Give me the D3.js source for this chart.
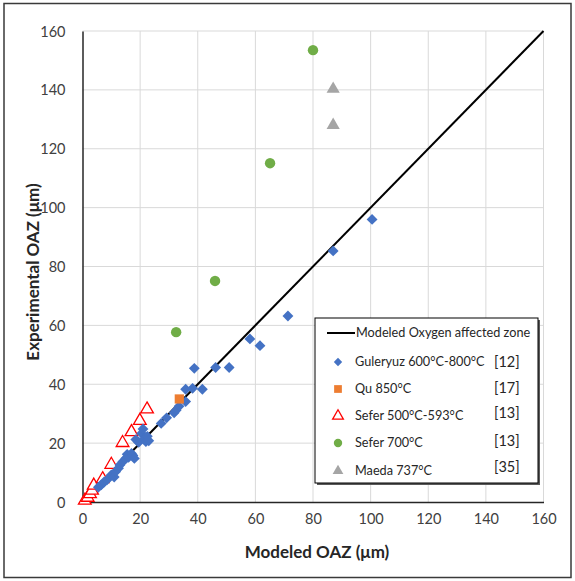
<!DOCTYPE html>
<html><head><meta charset="utf-8">
<script src="https://cdn.jsdelivr.net/npm/d3@7/dist/d3.min.js"></script>
<style>body{margin:0;background:#fff;}svg{display:block;font-family:Lato,"Noto Sans",sans-serif;}</style>
</head><body><svg id="c" width="575" height="581"></svg>
<script>
const xTicks = [0,20,40,60,80,100,120,140,160];
const yTicks = [0,20,40,60,80,100,120,140,160];
const modelLine = [[0,0],[160,160]];
const guleryuz = [[5.5,5.0],[6.5,5.8],[7.5,6.8],[8.5,7.5],[10,9.2],[11,8.5],[11.5,10.3],[12.5,11.5],[13,12.6],[14,13.7],[15,14.8],[15.5,16.2],[16,15.2],[17,16.5],[17.5,15.8],[18,14.8],[18.5,21.2],[19.5,20.3],[20.5,23.3],[21,24.8],[21.5,21.5],[22,20.5],[22.5,22.3],[23,20.8],[27.3,26.7],[29.2,28.6],[31.8,30.3],[32.5,31.2],[33.5,32.5],[35.8,34.1],[35.8,38.3],[38.2,38.6],[41.6,38.3],[38.8,45.4],[46.2,45.7],[50.9,45.7],[58.1,55.4],[61.6,53.1],[71.3,63.2],[87,85.3],[100.5,96]];
const qu = [[33.6,35.0]];
const sefer500 = [[0.8,0.5],[1.8,1.5],[2.6,2.7],[3.3,3.9],[3.9,5.6],[7,7.8],[10,12.7],[13.9,20.1],[17,23.8],[19.9,27.6],[22.4,31.5]];
const sefer700 = [[32.5,57.7],[46,75.1],[65.1,115.1],[80,153.5]];
const maeda = [[87,128],[87,140.3]];
const legendLabels = ["Modeled Oxygen affected zone","Guleryuz 600°C-800°C","Qu 850°C","Sefer 500°C-593°C","Sefer 700°C","Maeda 737°C"];
const legendRefs = ["","[12]","[17]","[13]","[13]","[35]"];

const svg = d3.select("#c");
const x = d3.scaleLinear().domain([0,160]).range([82.5,543.5]);
const y = d3.scaleLinear().domain([0,160]).range([502,31]);

// outer border
svg.append("rect").attr("x",4).attr("y",3.5).attr("width",567).attr("height",574)
  .attr("fill","#fff").attr("stroke","#3a3a3a").attr("stroke-width",1.5);

// gridlines
const g = svg.append("g");
g.selectAll(".vx").data(xTicks.slice(1)).join("line")
  .attr("x1",d=>x(d)).attr("x2",d=>x(d)).attr("y1",y(0)).attr("y2",y(160))
  .attr("stroke","#d9d9d9").attr("stroke-width",1);
g.selectAll(".hy").data(yTicks.slice(1)).join("line")
  .attr("x1",x(0)).attr("x2",x(160)).attr("y1",d=>y(d)).attr("y2",d=>y(d))
  .attr("stroke","#d9d9d9").attr("stroke-width",1);

// axes
const xAxis = d3.axisBottom(x).tickValues(xTicks).tickSize(0).tickPadding(12);
const yAxis = d3.axisLeft(y).tickValues(yTicks).tickSize(0).tickPadding(17);
const gx = svg.append("g").attr("transform",`translate(0,${y(0)})`).call(xAxis);
const gy = svg.append("g").attr("transform",`translate(${x(0)},0)`).call(yAxis);
[gx,gy].forEach(a=>{
  a.select(".domain").attr("stroke","#262626").attr("stroke-width",1.5);
  a.selectAll("text").attr("font-size",14.5).attr("fill","#404040").attr("font-family","Lato,sans-serif");
});
gy.selectAll("text").attr("dy","0.35em");

// titles
svg.append("text").attr("x",317).attr("y",558).attr("text-anchor","middle")
  .attr("font-size",17).attr("font-weight","bold").attr("fill","#262626").text("Modeled OAZ (μm)");
svg.append("text").attr("transform","translate(39,272) rotate(-90)").attr("text-anchor","middle")
  .attr("font-size",17).attr("font-weight","bold").attr("fill","#262626").text("Experimental OAZ (μm)");

// model line
svg.append("path").datum(modelLine)
  .attr("d",d3.line().x(d=>x(d[0])).y(d=>y(d[1])))
  .attr("stroke","#000").attr("stroke-width",2).attr("fill","none");

const sym = (type,size)=>d3.symbol().type(type).size(size)();
function plot(data,type,size,fill,stroke,sw){
  svg.append("g").selectAll("path").data(data).join("path")
    .attr("transform",d=>`translate(${x(d[0])},${y(d[1])})`)
    .attr("d",sym(type,size))
    .attr("fill",fill).attr("stroke",stroke||"none").attr("stroke-width",sw||0);
}
plot(sefer500,d3.symbolTriangle,70,"#fff","#ff0000",1.3);
plot(guleryuz,d3.symbolDiamond2,75,"#4472c4");
plot(qu,d3.symbolSquare,85,"#ed7d31");
plot(sefer700,d3.symbolCircle,85,"#70ad47");
plot(maeda,d3.symbolTriangle,75,"#a5a5a5");

// legend
const lg = svg.append("g");
lg.append("rect").attr("x",317).attr("y",320).attr("width",223).attr("height",165).attr("fill","#595959");
lg.append("rect").attr("x",315).attr("y",318).attr("width",223).attr("height",165).attr("fill","#fff").attr("stroke","#000").attr("stroke-width",1);
const rowsY = [333,362,389,416,443,471];
const refY = [0,362,388,413,441,467];
lg.append("line").attr("x1",327).attr("x2",355).attr("y1",rowsY[0]).attr("y2",rowsY[0]).attr("stroke","#000").attr("stroke-width",2);
const legMarks = [null,
  {t:d3.symbolDiamond2,s:45,f:"#4472c4"},
  {t:d3.symbolSquare,s:60,f:"#ed7d31"},
  {t:d3.symbolTriangle,s:50,f:"#fff",st:"#ff0000",sw:1.3},
  {t:d3.symbolCircle,s:55,f:"#70ad47"},
  {t:d3.symbolTriangle,s:50,f:"#a5a5a5"}];
legendLabels.forEach((lab,i)=>{
  if(i>0){
    const m = legMarks[i];
    lg.append("path").attr("transform",`translate(338,${rowsY[i]})`).attr("d",sym(m.t,m.s))
      .attr("fill",m.f).attr("stroke",m.st||"none").attr("stroke-width",m.sw||0);
  }
  lg.append("text").attr("x",i==0?356:355).attr("y",rowsY[i]).attr("dy","0.35em")
    .attr("font-size",12.7).attr("fill","#262626").text(lab);
  if(legendRefs[i]) lg.append("text").attr("x",494).attr("y",refY[i]).attr("dy","0.35em")
    .attr("font-size",14.5).attr("fill","#262626").text(legendRefs[i]);
});
</script></body></html>
